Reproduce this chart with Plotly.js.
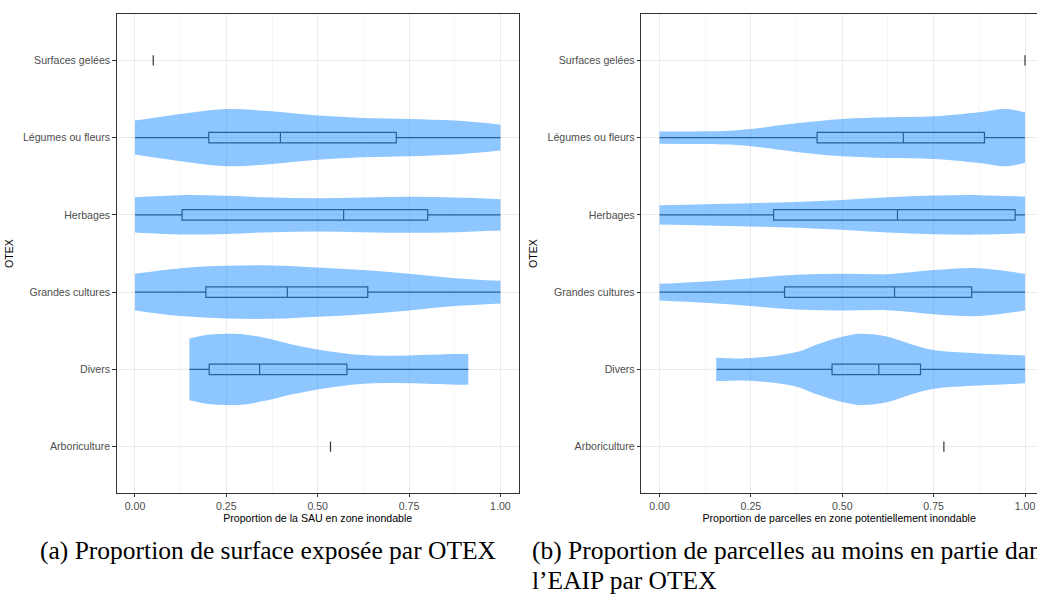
<!DOCTYPE html>
<html>
<head>
<meta charset="utf-8">
<script src="https://cdn.plot.ly/plotly-3.0.1.min.js"></script>
<style>html,body{margin:0;padding:0;background:#fff;}#chart{width:1037px;height:595px;}</style>
</head>
<body>
<div id="chart"></div>
<script>
// Categories (bottom to top)
const categories = ["Arboriculture", "Divers", "Grandes cultures", "Herbages", "Légumes ou fleurs", "Surfaces gelées"];
const catPos = [0, 1, 2, 3, 4, 5];
const xTickVals = [0, 0.25, 0.5, 0.75, 1];
const xTickText = ["0.00", "0.25", "0.50", "0.75", "1.00"];

// Panel (a): box statistics (order = categories)
const lowA = [0.535, 0.149, 0, 0, 0, 0.05];
const q1A  = [0.535, 0.203, 0.194, 0.129, 0.202, 0.05];
const medA = [0.535, 0.341, 0.417, 0.571, 0.398, 0.05];
const q3A  = [0.535, 0.580, 0.637, 0.801, 0.715, 0.05];
const upA  = [0.535, 0.912, 1, 1, 1, 0.05];

// Panel (b): box statistics
const lowB = [0.778, 0.157, 0, 0, 0, 1];
const q1B  = [0.778, 0.472, 0.342, 0.312, 0.431, 1];
const medB = [0.778, 0.600, 0.643, 0.651, 0.667, 1];
const q3B  = [0.778, 0.714, 0.854, 0.973, 0.889, 1];
const upB  = [0.778, 1, 1, 1, 1, 1];

// Violin density profiles (half-width in category units)
const gridX = [0, 0.125, 0.25, 0.375, 0.5, 0.625, 0.75, 0.875, 1];
// panel (a)
const vaLegumesX = gridX;
const vaLegumesW = [0.22, 0.307, 0.371, 0.340, 0.285, 0.255, 0.242, 0.22, 0.168];
const vaHerbagesX = gridX;
const vaHerbagesW = [0.229, 0.255, 0.246, 0.224, 0.216, 0.224, 0.233, 0.224, 0.203];
const vaGrandesX = gridX;
const vaGrandesW = [0.237, 0.310, 0.340, 0.345, 0.319, 0.285, 0.237, 0.181, 0.146];
const vaDiversX = [0.149, 0.2, 0.25, 0.3, 0.375, 0.43, 0.5, 0.625, 0.75, 0.875, 0.912];
const vaDiversW = [0.401, 0.449, 0.462, 0.453, 0.388, 0.323, 0.259, 0.185, 0.181, 0.198, 0.198];
// panel (b)
const vbLegumesX = [0, 0.125, 0.19, 0.25, 0.375, 0.5, 0.625, 0.75, 0.875, 0.95, 1];
const vbLegumesW = [0.078, 0.082, 0.09, 0.112, 0.185, 0.241, 0.263, 0.276, 0.328, 0.370, 0.325];
const vbHerbagesX = gridX;
const vbHerbagesW = [0.125, 0.138, 0.151, 0.168, 0.194, 0.229, 0.25, 0.255, 0.237];
const vbGrandesX = gridX;
const vbGrandesW = [0.108, 0.138, 0.181, 0.224, 0.237, 0.233, 0.285, 0.310, 0.237];
const vbDiversX = [0.155, 0.25, 0.375, 0.43, 0.5, 0.55, 0.625, 0.69, 0.75, 0.875, 1];
const vbDiversW = [0.151, 0.146, 0.224, 0.323, 0.423, 0.462, 0.423, 0.323, 0.25, 0.207, 0.181];

const violinFill = 'rgba(30,144,255,0.5)';

function violin(xs, hw, pos, xa, ya) {
  const lo = xs.map((_, i) => pos - hw[i]);
  const hi = xs.map((_, i) => pos + hw[i]);
  const base = {type: 'scatter', mode: 'lines', x: xs, xaxis: xa, yaxis: ya,
    hoverinfo: 'skip', showlegend: false};
  return [
    Object.assign({}, base, {y: lo, line: {width: 0, shape: 'spline', smoothing: 1, color: violinFill}}),
    Object.assign({}, base, {y: hi, line: {width: 0, shape: 'spline', smoothing: 1, color: violinFill},
      fill: 'tonexty', fillcolor: violinFill})
  ];
}

function box(low, q1, med, q3, up, xa, ya) {
  return {type: 'box', orientation: 'h', y: catPos, q1: q1, median: med, q3: q3,
    lowerfence: low, upperfence: up, xaxis: xa, yaxis: ya, width: 0.134,
    fillcolor: 'rgba(0,0,0,0)', line: {color: '#333333', width: 1.2}, whiskerwidth: 0,
    boxpoints: false, hoverinfo: 'skip', showlegend: false};
}

const traces = [].concat(
  violin(vaLegumesX, vaLegumesW, 4, 'x', 'y'),
  violin(vaHerbagesX, vaHerbagesW, 3, 'x', 'y'),
  violin(vaGrandesX, vaGrandesW, 2, 'x', 'y'),
  violin(vaDiversX, vaDiversW, 1, 'x', 'y'),
  violin(vbLegumesX, vbLegumesW, 4, 'x2', 'y2'),
  violin(vbHerbagesX, vbHerbagesW, 3, 'x2', 'y2'),
  violin(vbGrandesX, vbGrandesW, 2, 'x2', 'y2'),
  violin(vbDiversX, vbDiversW, 1, 'x2', 'y2'),
  [box(lowA, q1A, medA, q3A, upA, 'x', 'y'),
   box(lowB, q1B, medB, q3B, upB, 'x2', 'y2')]
);

const sans = 'Liberation Sans, Arial, Helvetica, sans-serif';
const serif = 'Liberation Serif, Times New Roman, serif';

function xAxis(domain, range, title, anchor) {
  return {domain: domain, range: range, anchor: anchor, type: 'linear',
    tickvals: xTickVals, ticktext: xTickText,
    showgrid: true, gridcolor: '#EBEBEB', gridwidth: 1,
    minor: {dtick: 0.125, tick0: 0, showgrid: true, gridcolor: '#F0F0F0', gridwidth: 0.6, ticks: ''},
    zeroline: false, showline: true, linecolor: '#333333', linewidth: 1, mirror: true,
    ticks: 'outside', ticklen: 3.5, tickwidth: 1, tickcolor: '#333333',
    tickfont: {family: sans, size: 10.6, color: '#4D4D4D'},
    title: {text: title, font: {family: sans, size: 10.6, color: '#000'}, standoff: 1},
    fixedrange: true};
}
function yAxis(anchor, mirror) {
  return {domain: [0.17143, 0.97647], range: [-0.6, 5.6], anchor: anchor, type: 'linear',
    tickvals: catPos, ticktext: categories,
    showgrid: true, gridcolor: '#EBEBEB', gridwidth: 1, zeroline: false,
    showline: true, linecolor: '#333333', linewidth: 1, mirror: mirror,
    ticks: 'outside', ticklen: 3.5, tickwidth: 1, tickcolor: '#333333',
    tickfont: {family: sans, size: 10.6, color: '#4D4D4D'},
    title: {text: 'OTEX', font: {family: sans, size: 10.6, color: '#000'}, standoff: 7},
    fixedrange: true};
}

const layout = {
  width: 1037, height: 595,
  margin: {l: 0, r: 0, t: 0, b: 0},
  paper_bgcolor: '#fff', plot_bgcolor: '#fff',
  showlegend: false,
  xaxis: xAxis([0.11254, 0.50019], [-0.05, 1.05], 'Proportion de la SAU en zone inondable', 'y'),
  yaxis: yAxis('x', true),
  xaxis2: xAxis([0.61842, 1], [-0.05, 1.0328], 'Proportion de parcelles en zone potentiellement inondable', 'y2'),
  yaxis2: yAxis('x2', false),
  annotations: [
    {text: '(a) Proportion de surface exposée par OTEX', xref: 'paper', yref: 'paper',
     x: 0.2584, y: 1 - 550 / 595, xanchor: 'center', yanchor: 'middle', showarrow: false,
     font: {family: serif, size: 25.5, color: '#000'}},
    {text: '(b) Proportion de parcelles au moins en partie dans', xref: 'paper', yref: 'paper',
     x: 530 / 1037, y: 1 - 550 / 595, xanchor: 'left', yanchor: 'middle', showarrow: false,
     font: {family: serif, size: 25.5, color: '#000'}},
    {text: 'l’EAIP par OTEX', xref: 'paper', yref: 'paper',
     x: 530 / 1037, y: 1 - 580.6 / 595, xanchor: 'left', yanchor: 'middle', showarrow: false,
     font: {family: serif, size: 25.5, color: '#000'}}
  ]
};

Plotly.newPlot('chart', traces, layout, {staticPlot: true, displayModeBar: false});
</script>
</body>
</html>
